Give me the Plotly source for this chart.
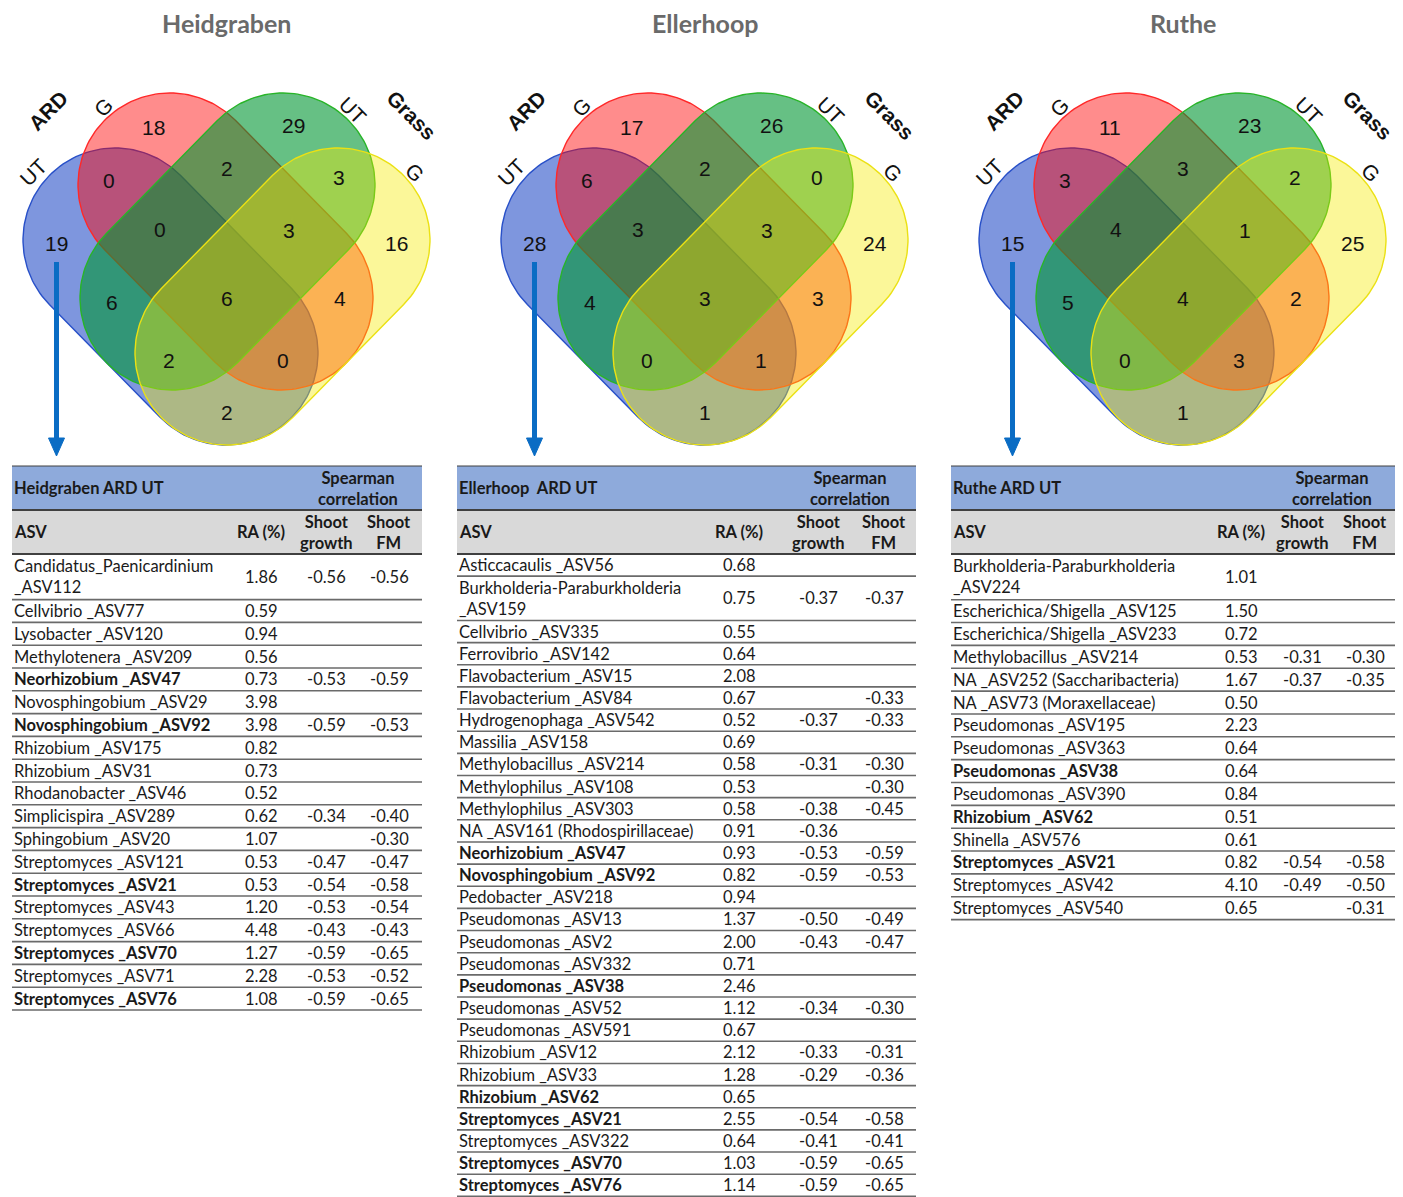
import numpy as np
import plotly.graph_objects as go

W, H = 1403, 1197

# ---------------------------------------------------------------- data
sites = ["Heidgraben", "Ellerhoop", "Ruthe"]

# Venn region counts, in this order:
# ARD G only, Grass UT only, ARD UT∩ARD G, ARD G∩Grass UT, Grass UT∩Grass G,
# ARD UT only, ARD UT∩ARD G∩Grass UT, ARD G∩Grass UT∩Grass G, Grass G only,
# ARD UT∩Grass UT, all four, ARD G∩Grass G, ARD UT∩Grass UT∩Grass G,
# ARD UT∩ARD G∩Grass G, ARD UT∩Grass G
venn_heidgraben = [18, 29, 0, 2, 3, 19, 0, 3, 16, 6, 6, 4, 2, 0, 2]
venn_ellerhoop = [17, 26, 6, 2, 0, 28, 3, 3, 24, 4, 3, 3, 0, 1, 1]
venn_ruthe = [11, 23, 3, 3, 2, 15, 4, 1, 25, 5, 4, 2, 0, 3, 1]

set_labels = ["ARD", "G", "UT", "UT", "Grass", "G"]

# Heidgraben ARD UT table
names_h = ["Candidatus_Paenicardinium<br>_ASV112", "Cellvibrio _ASV77", "Lysobacter _ASV120",
           "Methylotenera _ASV209", "Neorhizobium _ASV47", "Novosphingobium _ASV29",
           "Novosphingobium _ASV92", "Rhizobium _ASV175", "Rhizobium _ASV31",
           "Rhodanobacter _ASV46", "Simplicispira _ASV289", "Sphingobium _ASV20",
           "Streptomyces _ASV121", "Streptomyces _ASV21", "Streptomyces _ASV43",
           "Streptomyces _ASV66", "Streptomyces _ASV70", "Streptomyces _ASV71",
           "Streptomyces _ASV76"]
bold_h = [0, 0, 0, 0, 1, 0, 1, 0, 0, 0, 0, 0, 0, 1, 0, 0, 1, 0, 1]
ra_h = [1.86, 0.59, 0.94, 0.56, 0.73, 3.98, 3.98, 0.82, 0.73, 0.52, 0.62, 1.07,
        0.53, 0.53, 1.20, 4.48, 1.27, 2.28, 1.08]
growth_h = [-0.56, None, None, None, -0.53, None, -0.59, None, None, None, -0.34, None,
            -0.47, -0.54, -0.53, -0.43, -0.59, -0.53, -0.59]
fm_h = [-0.56, None, None, None, -0.59, None, -0.53, None, None, None, -0.40, -0.30,
        -0.47, -0.58, -0.54, -0.43, -0.65, -0.52, -0.65]

# Ellerhoop ARD UT table
names_e = ["Asticcacaulis _ASV56", "Burkholderia-Paraburkholderia<br>_ASV159",
           "Cellvibrio _ASV335", "Ferrovibrio _ASV142", "Flavobacterium _ASV15",
           "Flavobacterium _ASV84", "Hydrogenophaga _ASV542", "Massilia _ASV158",
           "Methylobacillus _ASV214", "Methylophilus _ASV108", "Methylophilus _ASV303",
           "NA _ASV161 (Rhodospirillaceae)", "Neorhizobium _ASV47", "Novosphingobium _ASV92",
           "Pedobacter _ASV218", "Pseudomonas _ASV13", "Pseudomonas _ASV2",
           "Pseudomonas _ASV332", "Pseudomonas _ASV38", "Pseudomonas _ASV52",
           "Pseudomonas _ASV591", "Rhizobium _ASV12", "Rhizobium _ASV33", "Rhizobium _ASV62",
           "Streptomyces _ASV21", "Streptomyces _ASV322", "Streptomyces _ASV70",
           "Streptomyces _ASV76"]
bold_e = [0, 0, 0, 0, 0, 0, 0, 0, 0, 0, 0, 0, 1, 1, 0, 0, 0, 0, 1, 0, 0, 0, 0, 1, 1, 0, 1, 1]
ra_e = [0.68, 0.75, 0.55, 0.64, 2.08, 0.67, 0.52, 0.69, 0.58, 0.53, 0.58, 0.91, 0.93, 0.82,
        0.94, 1.37, 2.00, 0.71, 2.46, 1.12, 0.67, 2.12, 1.28, 0.65, 2.55, 0.64, 1.03, 1.14]
growth_e = [None, -0.37, None, None, None, None, -0.37, None, -0.31, None, -0.38, -0.36,
            -0.53, -0.59, None, -0.50, -0.43, None, None, -0.34, None, -0.33, -0.29, None,
            -0.54, -0.41, -0.59, -0.59]
fm_e = [None, -0.37, None, None, None, -0.33, -0.33, None, -0.30, -0.30, -0.45, None,
        -0.59, -0.53, None, -0.49, -0.47, None, None, -0.30, None, -0.31, -0.36, None,
        -0.58, -0.41, -0.65, -0.65]

# Ruthe ARD UT table
names_r = ["Burkholderia-Paraburkholderia<br>_ASV224", "Escherichica/Shigella _ASV125",
           "Escherichica/Shigella _ASV233", "Methylobacillus _ASV214",
           "NA _ASV252 (Saccharibacteria)", "NA _ASV73 (Moraxellaceae)",
           "Pseudomonas _ASV195", "Pseudomonas _ASV363", "Pseudomonas _ASV38",
           "Pseudomonas _ASV390", "Rhizobium _ASV62", "Shinella _ASV576",
           "Streptomyces _ASV21", "Streptomyces _ASV42", "Streptomyces _ASV540"]
bold_r = [0, 0, 0, 0, 0, 0, 0, 0, 1, 0, 1, 0, 1, 0, 0]
ra_r = [1.01, 1.50, 0.72, 0.53, 1.67, 0.50, 2.23, 0.64, 0.64, 0.84, 0.51, 0.61, 0.82,
        4.10, 0.65]
growth_r = [None, None, None, -0.31, -0.37, None, None, None, None, None, None, None,
            -0.54, -0.49, None]
fm_r = [None, None, None, -0.30, -0.35, None, None, None, None, None, None, None,
        -0.58, -0.50, -0.31]

# ---------------------------------------------------------------- styling
TABLE_FONT = "Lato, Calibri, sans-serif"
VENN_FONT = "Liberation Sans, Arial, sans-serif"
TEXT = "#1a1a1a"

fig = go.Figure()
shapes = []
ann = []

# ------------------------------------------------------------- venn diagrams
R = 92
# capsule end centres (dx from panel centre, y); drawn bottom to top
capsules = [
    ("rgba(40,80,200,0.60)", "rgb(40,80,200)", (-111.5, 240), (-0.5, 353)),
    ("rgba(255,0,0,0.45)", "rgb(255,40,40)", (-56.5, 185), (54.5, 298)),
    ("rgba(0,150,50,0.60)", "rgb(40,180,40)", (56.5, 185), (-54.5, 298)),
    ("rgba(245,235,0,0.40)", "rgb(235,225,20)", (111.5, 240), (0.5, 353)),
]
region_pos = [(-73, 127), (67, 125), (-118, 180), (0, 168), (112, 177), (-170, 243),
              (-67, 229), (62, 230), (170, 243), (-115, 302), (0, 298), (113, 298),
              (-58, 360), (56, 360), (0, 412)]
label_pos = [(-178.5, 110, -45, True), (-123.5, 107, -45, False), (-193.5, 172, -45, False),
             (126.5, 110, 45, False), (185.5, 115, 45, True), (188.5, 172, 45, False)]


def capsule_xy(p1, p2, r, n=80):
    p1 = np.asarray(p1, float)
    p2 = np.asarray(p2, float)
    d = (p2 - p1) / np.linalg.norm(p2 - p1)
    nv = np.array([-d[1], d[0]])
    a_n = np.arctan2(nv[1], nv[0])
    t = np.linspace(0, np.pi, n)
    a2 = a_n - t
    a1 = a_n - np.pi - t
    xs = np.concatenate([p2[0] + r * np.cos(a2), p1[0] + r * np.cos(a1), [p2[0] + r * np.cos(a_n)]])
    ys = np.concatenate([p2[1] + r * np.sin(a2), p1[1] + r * np.sin(a1), [p2[1] + r * np.sin(a_n)]])
    return xs, ys


panel_cx = [226.5, 704.5, 1182.5]
venn_counts = [venn_heidgraben, venn_ellerhoop, venn_ruthe]

for cx, site, counts in zip(panel_cx, sites, venn_counts):
    for fillc, linec, a, b in capsules:
        xs, ys = capsule_xy((cx + a[0], a[1]), (cx + b[0], b[1]), R)
        fig.add_trace(go.Scatter(x=xs, y=ys, mode="lines", fill="toself", fillcolor=fillc,
                                 line=dict(color=linec, width=1.4), hoverinfo="skip"))
    for (dx, y), v in zip(region_pos, counts):
        ann.append(dict(x=cx + dx, y=y, text=str(v), showarrow=False,
                        font=dict(family=VENN_FONT, size=21, color="#111111")))
    for (dx, y, ang, bold), lab in zip(label_pos, set_labels):
        ann.append(dict(x=cx + dx, y=y, text=f"<b>{lab}</b>" if bold else lab,
                        textangle=ang, showarrow=False,
                        font=dict(family=VENN_FONT, size=21, color="#111111")))
    ann.append(dict(x=cx, y=23, text=f"<b>{site}</b>", showarrow=False,
                    font=dict(family=TABLE_FONT, size=25, color="#6a6a6a")))
    # arrow from the ARD UT-only count down to its table
    ax = cx - 170
    shapes.append(dict(type="line", x0=ax, x1=ax, y0=262, y1=440,
                       line=dict(color="#0a6cc4", width=5)))
    shapes.append(dict(type="path",
                       path=f"M{ax-8},{438} L{ax+8},{438} L{ax},{456} Z",
                       fillcolor="#0a6cc4", line=dict(color="#0a6cc4", width=1)))

# ------------------------------------------------------------------ tables
tables = [
    dict(x0=12, x1=422, title="Heidgraben ARD UT", spear=358, ra=261, g=326, fm=389,
         pitch=22.8, names=names_h, bold=bold_h, vra=ra_h, vg=growth_h, vfm=fm_h),
    dict(x0=457, x1=916, title="Ellerhoop  ARD UT", spear=850, ra=739, g=818, fm=884,
         pitch=22.15, names=names_e, bold=bold_e, vra=ra_e, vg=growth_e, vfm=fm_e),
    dict(x0=951, x1=1395, title="Ruthe ARD UT", spear=1332, ra=1241, g=1302, fm=1365,
         pitch=22.85, names=names_r, bold=bold_r, vra=ra_r, vg=growth_r, vfm=fm_r),
]

Y_TOP, Y_MID, Y_BODY = 466, 510, 554
FS = 16.5


def fmt(v):
    return "" if v is None else f"{v:.2f}"


for t in tables:
    x0, x1 = t["x0"], t["x1"]
    shapes.append(dict(type="rect", x0=x0, x1=x1, y0=Y_TOP, y1=Y_MID,
                       fillcolor="#8eaadb", line=dict(width=0), layer="below"))
    shapes.append(dict(type="rect", x0=x0, x1=x1, y0=Y_MID, y1=Y_BODY,
                       fillcolor="#d9d9d9", line=dict(width=0), layer="below"))
    for yy, w in ((Y_TOP, 1), (Y_MID, 2), (Y_BODY, 2)):
        shapes.append(dict(type="line", x0=x0, x1=x1, y0=yy, y1=yy,
                           line=dict(color="#404040", width=w)))
    hf = dict(family=TABLE_FONT, size=FS, color=TEXT)
    ann.append(dict(x=x0, y=(Y_TOP + Y_MID) / 2, xanchor="left", text=f"<b>{t['title']}</b>",
                    showarrow=False, font=hf))
    ann.append(dict(x=t["spear"], y=(Y_TOP + Y_MID) / 2, text="<b>Spearman<br>correlation</b>",
                    showarrow=False, font=hf))
    ann.append(dict(x=x0, y=(Y_MID + Y_BODY) / 2, xanchor="left", text="<b>ASV</b>",
                    showarrow=False, font=hf))
    ann.append(dict(x=t["ra"], y=(Y_MID + Y_BODY) / 2, text="<b>RA (%)</b>",
                    showarrow=False, font=hf))
    ann.append(dict(x=t["g"], y=(Y_MID + Y_BODY) / 2, text="<b>Shoot<br>growth</b>",
                    showarrow=False, font=hf))
    ann.append(dict(x=t["fm"], y=(Y_MID + Y_BODY) / 2, text="<b>Shoot<br>FM</b>",
                    showarrow=False, font=hf))

    y = Y_BODY
    p = t["pitch"]
    for name, b, vra, vg, vfm in zip(t["names"], t["bold"], t["vra"], t["vg"], t["vfm"]):
        h = 2 * p if "<br>" in name else p
        yc = y + h / 2
        rf = dict(family=TABLE_FONT, size=FS, color=TEXT)
        ann.append(dict(x=x0, y=yc, xanchor="left", align="left",
                        text=f"<b>{name}</b>" if b else name, showarrow=False, font=rf))
        ann.append(dict(x=t["ra"], y=yc, text=fmt(vra), showarrow=False, font=rf))
        ann.append(dict(x=t["g"], y=yc, text=fmt(vg), showarrow=False, font=rf))
        ann.append(dict(x=t["fm"], y=yc, text=fmt(vfm), showarrow=False, font=rf))
        y += h
        shapes.append(dict(type="line", x0=x0, x1=x1, y0=y, y1=y,
                           line=dict(color="#6a6a6a", width=1.6)))

fig.update_layout(
    width=W, height=H, margin=dict(l=0, r=0, t=0, b=0),
    paper_bgcolor="white", plot_bgcolor="white", showlegend=False,
    xaxis=dict(range=[0, W], visible=False, fixedrange=True),
    yaxis=dict(range=[H, 0], visible=False, fixedrange=True),
    shapes=shapes, annotations=ann,
)

fig.write_html("out.html")
